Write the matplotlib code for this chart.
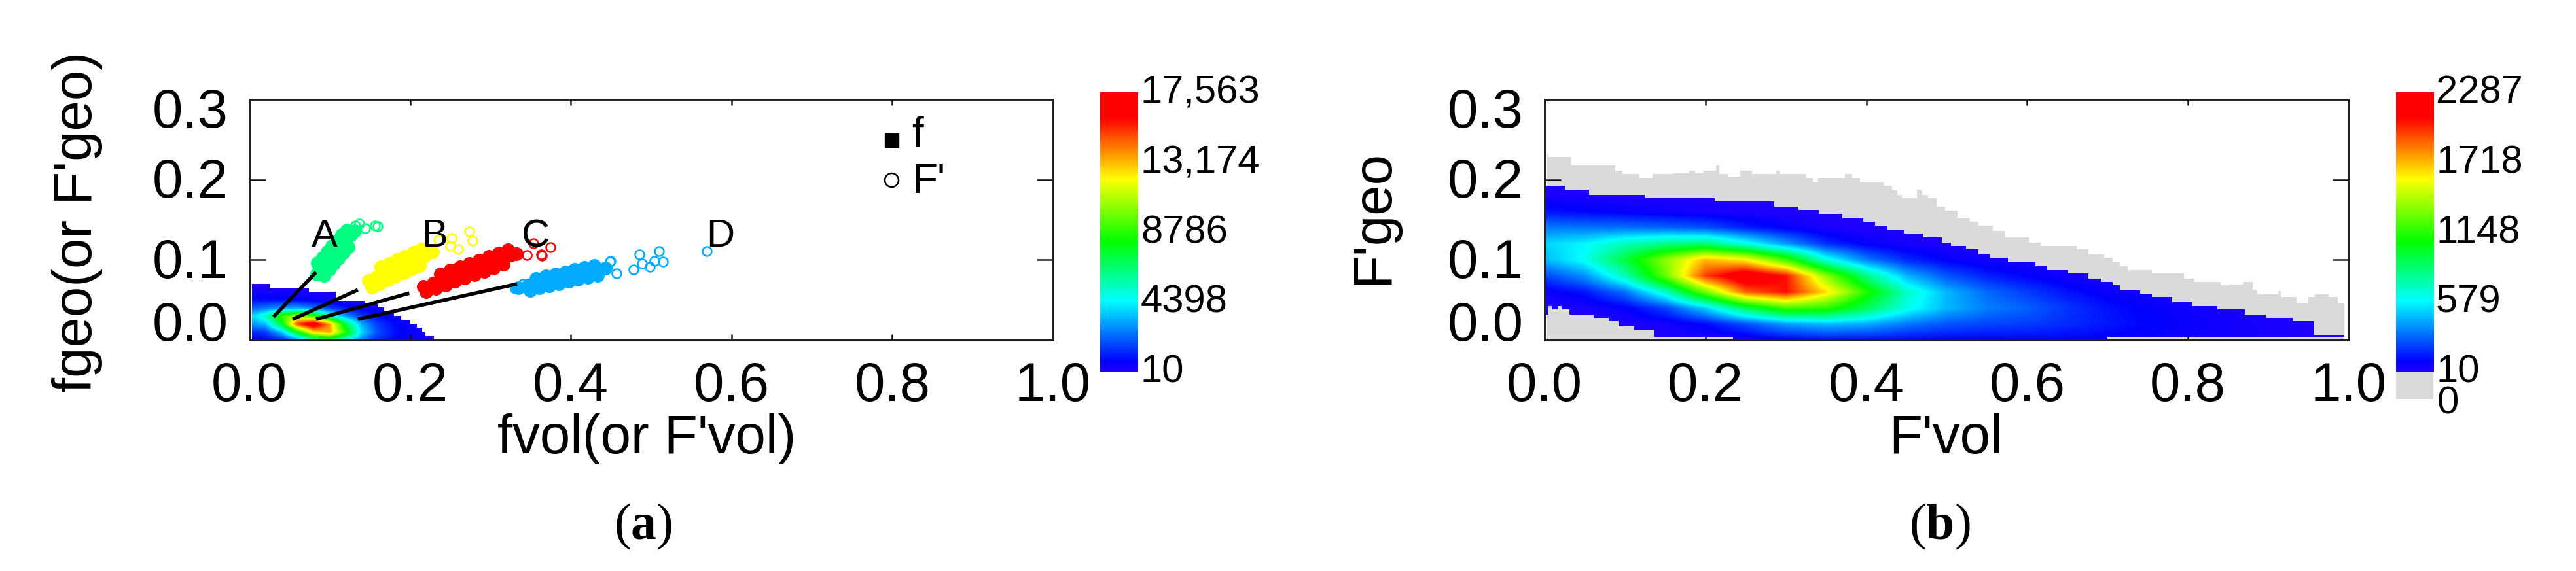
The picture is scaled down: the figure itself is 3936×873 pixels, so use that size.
import matplotlib
matplotlib.use('Agg')
import matplotlib.pyplot as plt
import numpy as np
from matplotlib.colors import LinearSegmentedColormap
from matplotlib.patches import Polygon
from matplotlib.transforms import ScaledTranslation

W = 3936
H = 873

# Data
x_ticks = [0.0, 0.2, 0.4, 0.6, 0.8, 1.0]
y_ticks = [0.0, 0.1, 0.2, 0.3]
cbar_a_ticks = [10, 4398, 8786, 13174, 17563]
cbar_a_labels = ['10', '4398', '8786', '13,174', '17,563']
cbar_b_ticks = [10, 579, 1148, 1718, 2287]
cbar_b_labels = ['10', '579', '1148', '1718', '2287']

# panel a density, rows are y = 0, 0.01 ... 0.07, columns x = 0, 0.02 ... 0.24
heat_a = [
    [400, 600, 1000, 2500, 5000, 6500, 4500, 2500, 1200, 700, 400, 200, 50],
    [1200, 1500, 3500, 8000, 12500, 13500, 8800, 3900, 1800, 900, 500, 250, 60],
    [2800, 3500, 7500, 15000, 17563, 13500, 7000, 3200, 1500, 800, 400, 150, 30],
    [3500, 5300, 9000, 11000, 9000, 5500, 3000, 1500, 800, 400, 150, 50, 10],
    [2000, 2500, 3000, 3200, 2500, 1600, 900, 500, 250, 100, 30, 10, 10],
    [800, 800, 800, 700, 500, 300, 150, 80, 30, 10, 10, 10, 10],
    [300, 250, 200, 150, 100, 50, 20, 10, 10, 10, 10, 10, 10],
    [50, 30, 20, 10, 10, 10, 10, 10, 10, 10, 10, 10, 10],
]
edge_a_x = [.0032, .025, .0739, .1077, .1444, .1593, .1675, .1797, .1892, .2, .2082, .215, .2191, .2299]
edge_a_top = [.0702, .0642, .0601, .0493, .0452, .0406, .0358, .0304, .0249, .0203, .0154, .01, .0046]

# panel b density, rows are y = 0, 0.02 ... 0.20, columns x = 0, 0.05 ... 1.0
heat_b = [
    [10, 10, 10, 12, 15, 20, 80, 110, 110, 100, 85, 85, 93, 90, 82, 67, 53, 43, 33, 20, 12],
    [12, 15, 15, 40, 110, 250, 400, 460, 430, 330, 260, 230, 210, 175, 135, 99, 70, 49, 33, 18, 11],
    [12, 25, 80, 220, 500, 900, 1190, 1150, 900, 630, 450, 340, 280, 195, 125, 84, 53, 33, 19, 11, 10],
    [65, 130, 315, 690, 1300, 1890, 2050, 1640, 1140, 700, 450, 300, 210, 125, 70, 41, 23, 13, 10, 10, 10],
    [224, 375, 720, 1270, 1960, 2260, 2050, 1350, 830, 450, 260, 150, 93, 46, 20, 12, 10, 10, 10, 10, 10],
    [447, 610, 950, 1340, 1720, 1600, 1190, 640, 340, 170, 85, 44, 24, 10, 10, 10, 10, 10, 10, 10, 10],
    [510, 580, 720, 820, 860, 640, 400, 180, 80, 40, 17, 10, 10, 10, 10, 10, 10, 10, 10, 10, 10],
    [338, 320, 315, 290, 250, 150, 80, 25, 12, 10, 10, 10, 10, 10, 10, 10, 10, 10, 10, 10, 10],
    [130, 100, 80, 56, 40, 20, 15, 10, 10, 10, 10, 10, 10, 10, 10, 10, 10, 10, 10, 10, 10],
    [29, 20, 15, 12, 12, 10, 10, 10, 10, 10, 10, 10, 10, 10, 10, 10, 10, 10, 10, 10, 10],
    [10, 10, 10, 10, 10, 10, 10, 10, 10, 10, 10, 10, 10, 10, 10, 10, 10, 10, 10, 10, 10],
]
blue_x = [.002, .0254, .0555, .1256, .2112, .2854, .316, .341, .3705, .3965, .411, .4266, .4463, .4707, .494,
          .5054, .5241, .5392, .5537, .576, .6106, .625, .6508, .6762, .6915, .7063, .7151, .7404, .755, .7803,
          .8049, .8364, .8707, .8964, .9302, .9568, .9943]
blue_top = [.1921, .1875, .1813, .1772, .1726, .1666, .1623, .1577, .1517, .1477, .1428, .1368, .1325, .1279,
            .1217, .1176, .113, .107, .1027, .098, .0919, .0875, .0832, .077, .0723, .0683, .0623, .0577, .0534,
            .0474, .0425, .0385, .0322, .0276, .0236, .0067]
low_x = [.002, .0052, .0088, .0166, .0208, .0311, .0607, .0799, .0919, .1111, .136, .2346, .5, .7, .9943]
low_top = [.0317, .0423, .0383, .0423, .0383, .0322, .0276, .0236, .0173, .0127, .004, 0, 0, .004]
grey_x = [.003, .0052, .0327, .0882, .097, .1178, .1339, .1598, .1795, .1873, .1977, .2133, .2169, .2289, .2434,
          .2579, .2881, .2933, .3256, .3334, .3401, .3567, .3733, .3826, .3919, .4111, .4215, .4319, .4382, .4444,
          .4626, .4693, .4771, .4875, .4979, .5134, .5290, .5394, .5576, .5732, .5847, .6022, .6168, .6350, .6541,
          .6615, .6762, .6957, .7063, .7151, .7249, .755, .795, .8072, .8405, .8533, .8681, .8804, .8861, .9121,
          .9154, .9349, .9497, .9577, .9748, .9862, .9943]
grey_top = [.2322, .2282, .2173, .2111, .2073, .2024, .2073, .2079, .2111, .2079, .2111, .2173, .2073, .2038, .2111,
            .2073, .2111, .2073, .2024, .1962, .2024, .2024, .2073, .2024, .1962, .1962, .1921, .1867, .1807, .1767,
            .1875, .1807, .1767, .1664, .1618, .1515, .1477, .1428, .136, .1279, .1279, .1217, .1176, .1176, .1176,
            .113, .107, .1027, .098, .0919, .0875, .0832, .077, .0723, .0683, .0696, .0723, .0629, .0574, .0615,
            .0534, .0466, .0534, .0574, .0534, .0453]

# overlaid points: dense core of each group plus the loose open markers
green_x = [.084, .090, .096, .102, .108, .114, .120, .126, .131, .085, .091, .097, .103, .109, .115, .121,
           .093, .099, .105, .111, .117, .123]
green_y = [.082, .089, .096, .103, .110, .117, .124, .131, .136, .096, .103, .110, .117, .124, .131, .137,
           .081, .088, .095, .102, .109, .116]
green_open_x = [.132, .137, .144, .156, .160]
green_open_y = [.143, .145, .139, .143, .1415]

yellow_x = [.148, .158, .168, .178, .188, .198, .208, .218, .228, .164, .174, .184, .194, .204, .214,
            .152, .162, .172, .182, .192, .202, .212]
yellow_y = [.074, .0785, .083, .0875, .092, .0965, .101, .1055, .110, .091, .0955, .100, .1045, .109,
            .1135, .066, .0705, .075, .0795, .084, .0885, .093]
yellow_open_x = [.2353, .250, .2516, .2598, .2736, .2777]
yellow_open_y = [.125, .117, .1268, .113, .135, .1236]

red_x = [.217, .229, .241, .253, .265, .277, .289, .301, .313, .325, .332, .238, .250, .262, .274, .286,
         .298, .310, .322, .220, .232, .244, .256, .268, .280, .292, .304, .316]
red_y = [.067, .0713, .0756, .08, .0842, .0885, .0928, .097, .1014, .1057, .108, .0826, .087, .0912,
         .0955, .0998, .104, .1084, .1127, .060, .0643, .0686, .073, .0772, .0815, .0858, .090, .0944]
red_open_x = [.3453, .3534, .3632, .364, .3746]
red_open_y = [.1057, .121, .107, .105, .1154]

blue_pts_x = [.335, .347, .359, .371, .383, .395, .407, .419, .431, .443, .357, .369, .381, .393,
              .405, .417, .429, .349, .361, .373, .385, .397, .409, .421, .433]
blue_pts_y = [.0655, .0682, .0709, .0736, .0763, .079, .0817, .0844, .0871, .0898, .0769, .0796,
              .0823, .085, .0877, .0904, .0931, .0622, .0649, .0676, .0703, .073, .0757, .0784, .0811]
blue_open_x = [.331, .340, .443, .449, .4495, .4566, .478, .485, .489, .498, .504, .510, .515, .569]
blue_open_y = [.0640, .0700, .0880, .0980, .099, .083, .0878, .1065, .095, .091, .099, .1106, .098, .111]

# leader lines from the density peak out to each group
line_x = [[.030, .083], [.054, .135], [.083, .199], [.135, .333]]
line_y = [[.029, .0846], [.026, .0626], [.026, .0585], [.026, .07]]
group_names = ['A', 'B', 'C', 'D']
group_name_x = [.0937, .2306, .356, .586]
group_name_y = [.1163, .1163, .1163, .1163]

plt.rcParams['font.family'] = ['Liberation Sans', 'DejaVu Sans']
plt.rcParams['mathtext.fontset'] = 'custom'
plt.rcParams['mathtext.bf'] = 'Liberation Serif:bold'

GREY = '#dadada'
BLACK = '#111111'
rainbow = LinearSegmentedColormap.from_list('rainbow_bar', [
    (0.0, (0.12, 0.0, 1.0)), (0.035, (0.0, 0.0, 1.0)), (0.253, (0.0, 1.0, 1.0)),
    (0.464, (0.0, 1.0, 0.0)), (0.69, (1.0, 1.0, 0.0)), (0.91, (1.0, 0.0, 0.0)), (1.0, (1.0, 0.0, 0.0))])

fig = plt.figure(figsize=(W / 100, H / 100), dpi=100)


def box(left, top, right, bottom):
    return [left / W, 1 - bottom / H, (right - left) / W, (bottom - top) / H]


def px_pt(n):
    return n * 72 / 100


def shift_label(label, dx_px, dy_px):
    off = ScaledTranslation(dx_px / 100, dy_px / 100, fig.dpi_scale_trans)
    label.set_transform(label.get_transform() + off)


def setup_axes(ax):
    ax.set_xlim(0, 1)
    ax.set_ylim(0, 0.3)
    ax.set_xticks(x_ticks, ['%.1f' % v for v in x_ticks])
    ax.set_yticks(y_ticks, ['%.1f' % v for v in y_ticks])
    ax.tick_params(axis='x', direction='in', top=True, length=px_pt(9), width=px_pt(2.5), pad=px_pt(32),
                   labelsize=60, color=BLACK)
    ax.tick_params(axis='y', direction='in', right=True, length=px_pt(25), width=px_pt(2.5), pad=px_pt(32),
                   labelsize=60, color=BLACK)
    for s in ax.spines.values():
        s.set_linewidth(px_pt(3))
        s.set_color('#222222')
    # the labels do not sit exactly on their ticks in the original
    for lab, dy in zip(ax.get_yticklabels(), [29, 3, 3, -13]):
        shift_label(lab, 0, dy)


def steps(edges, tops):
    xs = np.repeat(edges, 2)[1:-1]
    ys = np.repeat(tops, 2)
    return xs, ys


def colorbar(pos, low, high, ticks, labels):
    cax = fig.add_axes(box(*pos))
    vals = np.linspace(low, high, 256).reshape(-1, 1)
    cax.imshow(vals, origin='lower', aspect='auto', cmap=rainbow, vmin=low, vmax=high, extent=(0, 1, low, high))
    cax.set_xticks([])
    cax.yaxis.tick_right()
    cax.set_yticks(ticks, labels)
    cax.tick_params(axis='y', length=0, pad=px_pt(4), labelsize=43)
    for lab in cax.get_yticklabels():
        shift_label(lab, 0, 5)
    for s in cax.spines.values():
        s.set_visible(False)
    return cax


# Panel a
ax1 = fig.add_axes(box(381, 152, 1609, 520))
heat_a_arr = np.array(heat_a, dtype=float)
im1 = ax1.imshow(heat_a_arr, origin='lower', extent=(-.01, .25, -.005, .075), aspect='auto', cmap=rainbow,
                 vmin=10, vmax=17563, interpolation='bilinear')
xs, ys = steps(edge_a_x, edge_a_top)
outline = np.column_stack([np.r_[xs, xs[-1], xs[0]], np.r_[ys, 0, 0]])
im1.set_clip_path(Polygon(outline, closed=True, transform=ax1.transData))
setup_axes(ax1)

groups = [(green_x, green_y, green_open_x, green_open_y, '#00ff80'),
          (yellow_x, yellow_y, yellow_open_x, yellow_open_y, '#ffff00'),
          (red_x, red_y, red_open_x, red_open_y, '#ff0000'),
          (blue_pts_x, blue_pts_y, blue_open_x, blue_open_y, '#00aaff')]
for gx, gy, ox, oy, col in groups:
    ax1.plot(gx, gy, ls='none', marker='o', ms=px_pt(19), mfc=col, mec=col, mew=px_pt(2))
    ax1.plot(ox, oy, ls='none', marker='o', ms=px_pt(14), mfc='none', mec=col, mew=px_pt(2.5))
for lx, ly in zip(line_x, line_y):
    ax1.plot(lx, ly, color='black', lw=px_pt(5.5), solid_capstyle='butt')
for name, nx, ny in zip(group_names, group_name_x, group_name_y):
    ax1.text(nx, ny, name, fontsize=43, ha='center', va='baseline', color='black')

ax1.plot([.799], [.2496], ls='none', marker='s', ms=px_pt(21), color='black')
ax1.plot([.799], [.1996], ls='none', marker='o', ms=px_pt(21), mfc='none', mec='black', mew=px_pt(2.5))
ax1.text(.8245, .2415, 'f', fontsize=46, va='baseline')
ax1.text(.8245, .1835, "F'", fontsize=46, va='baseline')

colorbar((1681, 141, 1739, 568), 10, 17563, cbar_a_ticks, cbar_a_labels)

# Panel b, the density goes over the grey low-count area
ax2 = fig.add_axes(box(2360, 152, 3589, 520))
gx, gy = steps(grey_x, grey_top)
ax2.fill_between(gx, 0, gy, color=GREY, lw=0, zorder=1)
heat_b_arr = np.array(heat_b, dtype=float)
im2 = ax2.imshow(heat_b_arr, origin='lower', extent=(-.025, 1.025, -.01, .21), aspect='auto', cmap=rainbow,
                 vmin=10, vmax=2287, interpolation='bilinear', zorder=2)
tx, ty = steps(blue_x, blue_top)
bx, by = steps(low_x, low_top)
outline = np.column_stack([np.r_[tx, bx[::-1]], np.r_[ty, by[::-1]]])
im2.set_clip_path(Polygon(outline, closed=True, transform=ax2.transData))
setup_axes(ax2)

colorbar((3661, 141, 3718, 568), 10, 2287, cbar_b_ticks, cbar_b_labels)
under = fig.add_axes(box(3661, 568, 3718, 610))
under.set_facecolor(GREY)
under.set_xticks([])
under.set_yticks([])
for s in under.spines.values():
    s.set_visible(False)
fig.text(3724 / W, 1 - 617 / H, '0', fontsize=43, ha='left', va='center')

# Axis titles and panel letters
fig.text(988 / W, 1 - 693 / H, "fvol(or F'vol)", fontsize=60, ha='center', va='baseline')
fig.text(2973 / W, 1 - 693 / H, "F'vol", fontsize=60, ha='center', va='baseline')
fig.text(118 / W, 1 - 340 / H, "fgeo(or F'geo)", fontsize=60, rotation=90, ha='center', va='center')
fig.text(2098 / W, 1 - 332 / H, "F'geo", fontsize=60, rotation=90, ha='center', va='center')
fig.text(983 / W, 1 - 805 / H, r'($\mathbf{a}$)', fontsize=56, family='Liberation Serif', ha='center', va='center')
fig.text(2964 / W, 1 - 805 / H, r'($\mathbf{b}$)', fontsize=56, family='Liberation Serif', ha='center', va='center')

fig.savefig('out.png', dpi=100)
